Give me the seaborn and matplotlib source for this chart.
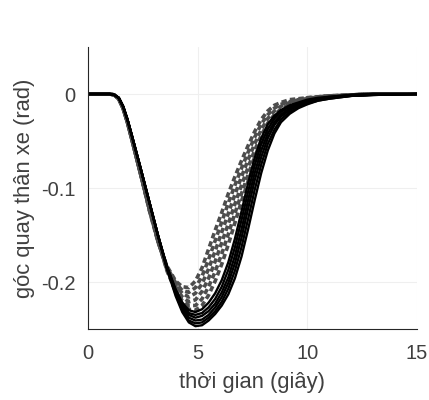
import numpy as np
import pandas as pd
import matplotlib
matplotlib.use("Agg")
import matplotlib.pyplot as plt
import seaborn as sns

# shared time grid (s)
t = [0, 1.0, 1.2, 1.4, 1.6, 1.8, 2.0, 2.4, 2.8, 3.2, 3.6, 4.0, 4.3, 4.6, 4.9, 5.2,
     5.5, 5.8, 6.1, 6.4, 6.7, 7.0, 7.3, 7.6, 7.9, 8.2, 8.5, 8.8, 9.2, 9.6, 10, 10.5,
     11, 12, 13, 15]

# solid black curves (body roll angle, rad)
black_1 = [0, 0, -0.001, -0.004, -0.013, -0.027, -0.044, -0.079, -0.115, -0.151,
           -0.183, -0.208, -0.222, -0.230, -0.232, -0.229, -0.222, -0.212, -0.198, -0.179,
           -0.154, -0.125, -0.095, -0.068, -0.047, -0.032, -0.023, -0.017, -0.012, -0.009,
           -0.006, -0.004, -0.003, -0.001, 0, 0]
black_2 = [0, 0, -0.001, -0.004, -0.013, -0.027, -0.044, -0.079, -0.115, -0.151,
           -0.184, -0.209, -0.224, -0.233, -0.235, -0.233, -0.227, -0.218, -0.205, -0.187,
           -0.163, -0.134, -0.104, -0.076, -0.053, -0.037, -0.026, -0.019, -0.013, -0.010,
           -0.007, -0.005, -0.003, -0.001, 0, 0]
black_3 = [0, 0, -0.001, -0.004, -0.013, -0.027, -0.044, -0.079, -0.115, -0.151,
           -0.184, -0.210, -0.226, -0.235, -0.238, -0.236, -0.231, -0.223, -0.211, -0.195,
           -0.172, -0.144, -0.113, -0.084, -0.060, -0.042, -0.030, -0.022, -0.015, -0.011,
           -0.008, -0.005, -0.004, -0.001, 0, 0]
black_4 = [0, 0, -0.001, -0.004, -0.013, -0.027, -0.044, -0.079, -0.115, -0.151,
           -0.185, -0.212, -0.228, -0.238, -0.241, -0.240, -0.235, -0.227, -0.216, -0.201,
           -0.180, -0.153, -0.122, -0.092, -0.067, -0.047, -0.033, -0.024, -0.017, -0.012,
           -0.009, -0.006, -0.004, -0.002, -0.001, 0]
black_5 = [0, 0, -0.001, -0.004, -0.013, -0.027, -0.044, -0.079, -0.115, -0.151,
           -0.185, -0.213, -0.230, -0.241, -0.244, -0.243, -0.238, -0.231, -0.221, -0.207,
           -0.188, -0.163, -0.133, -0.102, -0.075, -0.053, -0.038, -0.027, -0.019, -0.014,
           -0.010, -0.007, -0.005, -0.002, -0.001, 0]
black_6 = [0, 0, -0.001, -0.004, -0.013, -0.027, -0.044, -0.079, -0.115, -0.151,
           -0.186, -0.215, -0.232, -0.243, -0.247, -0.246, -0.241, -0.234, -0.225, -0.213,
           -0.196, -0.173, -0.144, -0.113, -0.084, -0.060, -0.042, -0.030, -0.021, -0.015,
           -0.011, -0.007, -0.005, -0.002, -0.001, 0]

# dashed gray curves
gray_1 = [0, 0, -0.001, -0.005, -0.015, -0.030, -0.048, -0.085,
          -0.124, -0.158, -0.183, -0.199, -0.205, -0.206, -0.199, -0.185, -0.165, -0.145,
          -0.126, -0.106, -0.088, -0.071, -0.055, -0.040, -0.027, -0.018, -0.012, -0.009,
          -0.006, -0.005, -0.004, -0.003, -0.002, -0.001, 0, 0]
gray_2 = [0, 0, -0.001, -0.005, -0.015, -0.030, -0.048, -0.085,
          -0.123, -0.157, -0.184, -0.201, -0.209, -0.211, -0.206, -0.194, -0.176, -0.156,
          -0.136, -0.116, -0.097, -0.079, -0.062, -0.046, -0.032, -0.022, -0.015, -0.011,
          -0.008, -0.006, -0.004, -0.003, -0.002, -0.001, 0, 0]
gray_3 = [0, 0, -0.001, -0.005, -0.015, -0.030, -0.048, -0.085,
          -0.123, -0.157, -0.185, -0.203, -0.212, -0.216, -0.212, -0.202, -0.186, -0.167,
          -0.147, -0.127, -0.107, -0.088, -0.070, -0.053, -0.038, -0.026, -0.018, -0.013,
          -0.009, -0.006, -0.005, -0.003, -0.002, -0.001, 0, 0]
gray_4 = [0, 0, -0.001, -0.005, -0.015, -0.030, -0.048, -0.085,
          -0.122, -0.157, -0.186, -0.205, -0.216, -0.221, -0.219, -0.210, -0.196, -0.178,
          -0.158, -0.138, -0.117, -0.097, -0.078, -0.060, -0.044, -0.031, -0.022, -0.016,
          -0.011, -0.008, -0.006, -0.004, -0.003, -0.001, 0, 0]
gray_5 = [0, 0, -0.001, -0.005, -0.015, -0.030, -0.048, -0.085,
          -0.121, -0.156, -0.187, -0.208, -0.220, -0.225, -0.225, -0.218, -0.205, -0.189,
          -0.170, -0.149, -0.127, -0.106, -0.086, -0.067, -0.050, -0.036, -0.026, -0.019,
          -0.013, -0.009, -0.007, -0.005, -0.003, -0.001, 0, 0]
gray_6 = [0, 0, -0.001, -0.005, -0.015, -0.030, -0.048, -0.085,
          -0.120, -0.156, -0.188, -0.210, -0.223, -0.229, -0.230, -0.225, -0.214, -0.199,
          -0.181, -0.160, -0.137, -0.114, -0.093, -0.073, -0.055, -0.040, -0.029, -0.021,
          -0.015, -0.011, -0.008, -0.005, -0.003, -0.001, 0, 0]

x_ticks = [0, 5, 10, 15]
y_ticks = [0, -0.1, -0.2]
y_tick_labels = ["0", "-0.1", "-0.2"]
x_label = "thời gian (giây)"
y_label = "góc quay thân xe (rad)"

sns.set_style("white")
plt.rcParams["font.family"] = ["Liberation Sans", "DejaVu Sans"]
plt.rcParams["axes.unicode_minus"] = False

fig = plt.figure(figsize=(4.29, 4.0), dpi=100)
ax = fig.add_axes([0.205, 0.1775, 0.767, 0.705])

black_curves = [black_1, black_2, black_3, black_4, black_5, black_6]
gray_curves = [gray_1, gray_2, gray_3, gray_4, gray_5, gray_6]

dash_offsets = [0.0, 1.1, 0.4, 1.6, 0.8, 2.0]
for c, off in zip(gray_curves, dash_offsets):
    sns.lineplot(x=t, y=c, ax=ax, color="#4d4d4d", linewidth=2.6, sort=False)
    ax.lines[-1].set_linestyle((off, (1.5, 0.9)))
for c in black_curves:
    sns.lineplot(x=t, y=c, ax=ax, color="black", linewidth=1.7, sort=False)

ax.set_xlim(0, 15)
ax.set_ylim(-0.25, 0.05)
ax.set_xticks(x_ticks)
ax.set_xticklabels([str(v) for v in x_ticks])
ax.set_yticks(y_ticks)
ax.set_yticklabels(y_tick_labels)
ax.grid(True, color="#efefef", linewidth=0.8)
ax.set_axisbelow(True)
for s in ["top", "right"]:
    ax.spines[s].set_visible(False)
for s in ["left", "bottom"]:
    ax.spines[s].set_color("#262626")
    ax.spines[s].set_linewidth(0.8)
ax.tick_params(direction="in", length=3, width=0.6, colors="#404040",
               labelsize=14.5)
ax.tick_params(axis="x", pad=11)
ax.tick_params(axis="y", pad=9)
ax.set_xlabel(x_label, fontsize=15.8, color="#404040", labelpad=6)
ax.set_ylabel(y_label, fontsize=15.8, color="#404040", labelpad=4)

fig.savefig("out.png", dpi=100)
